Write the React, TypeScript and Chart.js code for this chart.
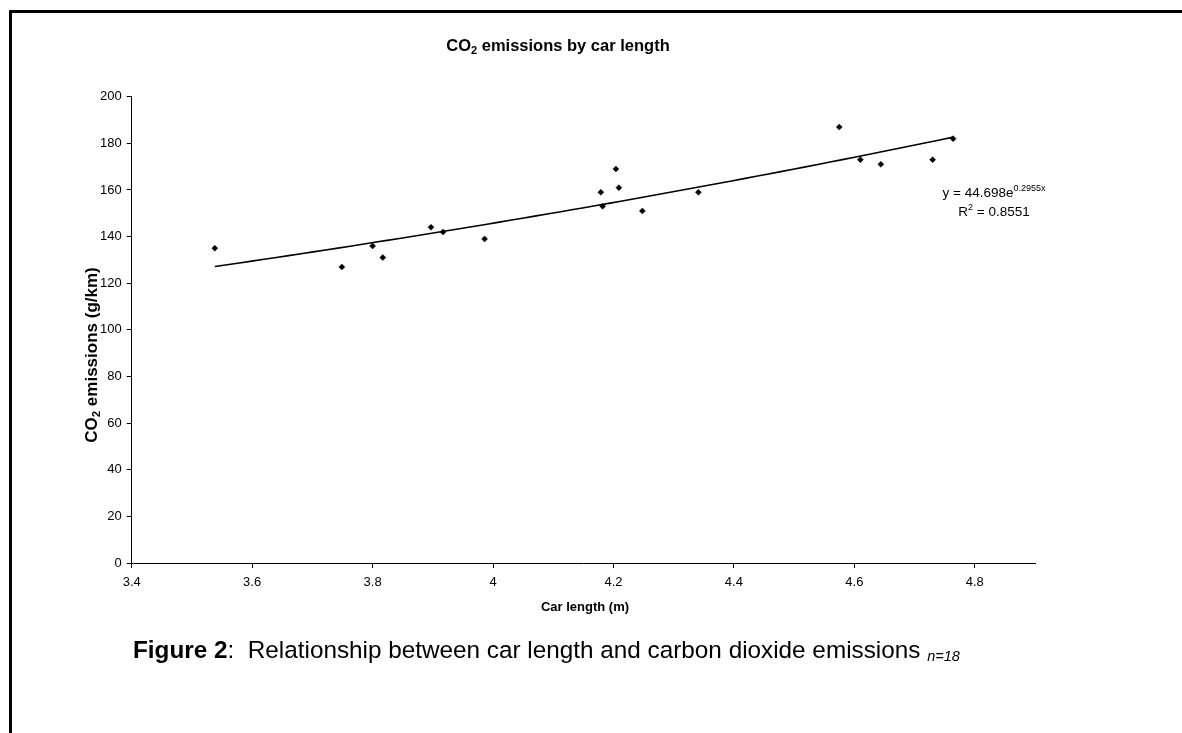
import React, { useEffect, useRef } from "react";
import { Chart, registerables } from "chart.js";

Chart.register(...registerables);

// ---- Data ----
const carLength = [3.538, 3.749, 3.8, 3.817, 3.897, 3.917, 3.986, 4.179, 4.182, 4.204, 4.209, 4.248, 4.341, 4.575, 4.61, 4.644, 4.73, 4.764];
const co2Emissions = [135, 127, 136, 131, 144, 142, 139, 159, 153, 169, 161, 151, 159, 187, 173, 171, 173, 182];
const xTickValues = [3.4, 3.6, 3.8, 4.0, 4.2, 4.4, 4.6, 4.8];
const yTickValues = [0, 20, 40, 60, 80, 100, 120, 140, 160, 180, 200];
// Trendline stated on the chart: y = 44.698 e^(0.2955x)
const trendA = 44.698;
const trendB = 0.2955;
const trendSamples = 60;

const FONT = "'Liberation Sans', Arial, Helvetica, sans-serif";

type Run = { text: string; size: number; bold?: boolean; italic?: boolean; dy?: number };

function runFont(r: Run) {
  return `${r.italic ? "italic " : ""}${r.bold ? "bold " : ""}${r.size}px ${FONT}`;
}

function drawRuns(ctx: CanvasRenderingContext2D, runs: Run[], x: number, y: number, align: "center" | "left") {
  let total = 0;
  const widths = runs.map((r) => {
    ctx.font = runFont(r);
    const w = ctx.measureText(r.text).width;
    total += w;
    return w;
  });
  let cx = align === "center" ? x - total / 2 : x;
  ctx.textAlign = "left";
  ctx.textBaseline = "alphabetic";
  runs.forEach((r, i) => {
    ctx.font = runFont(r);
    ctx.fillText(r.text, cx, y + (r.dy || 0));
    cx += widths[i];
  });
}

const textPlugin = {
  id: "customText",
  afterDraw(chart: any) {
    const ctx: CanvasRenderingContext2D = chart.ctx;
    ctx.save();
    ctx.fillStyle = "#000";
    // Chart title
    drawRuns(
      ctx,
      [
        { text: "CO", size: 16.5, bold: true },
        { text: "2", size: 11, bold: true, dy: 3 },
        { text: " emissions by car length", size: 16.5, bold: true },
      ],
      558,
      51,
      "center"
    );
    // X axis title
    drawRuns(ctx, [{ text: "Car length (m)", size: 13, bold: true }], 585, 611, "center");
    // Y axis title (rotated)
    ctx.save();
    ctx.translate(97, 355);
    ctx.rotate(-Math.PI / 2);
    drawRuns(
      ctx,
      [
        { text: "CO", size: 17, bold: true },
        { text: "2", size: 11.5, bold: true, dy: 3 },
        { text: " emissions (g/km)", size: 17, bold: true },
      ],
      0,
      0,
      "center"
    );
    ctx.restore();
    // Trendline equation
    drawRuns(
      ctx,
      [
        { text: "y = 44.698e", size: 13.5 },
        { text: "0.2955x", size: 9, dy: -6 },
      ],
      994,
      197,
      "center"
    );
    drawRuns(
      ctx,
      [
        { text: "R", size: 13.5 },
        { text: "2", size: 9, dy: -6 },
        { text: " = 0.8551", size: 13.5 },
      ],
      994,
      216,
      "center"
    );
    ctx.restore();
  },
};

export default function App() {
  const canvasRef = useRef<HTMLCanvasElement | null>(null);

  useEffect(() => {
    const canvas = canvasRef.current;
    if (!canvas) return;
    const x0 = carLength[0];
    const x1 = carLength[carLength.length - 1];
    const trendPoints = [] as { x: number; y: number }[];
    for (let i = 0; i <= trendSamples; i++) {
      const x = x0 + ((x1 - x0) * i) / trendSamples;
      trendPoints.push({ x, y: trendA * Math.exp(trendB * x) });
    }
    const scatterPoints = carLength.map((x, i) => ({ x, y: co2Emissions[i] }));

    const yAxisWidth = 45;
    const xAxisHeight = 40;
    const chart = new Chart(canvas, {
      type: "scatter",
      data: {
        datasets: [
          {
            data: scatterPoints,
            pointStyle: "rectRot",
            pointRadius: 3,
            backgroundColor: "#000",
            borderColor: "#000",
            borderWidth: 0.5,
            order: 1,
          },
          {
            data: trendPoints,
            showLine: true,
            pointRadius: 0,
            borderColor: "#000",
            borderWidth: 1.6,
            tension: 0,
            order: 2,
          } as any,
        ],
      },
      options: {
        animation: false,
        responsive: false,
        devicePixelRatio: 1,
        layout: {
          padding: {
            left: 131.7 - yAxisWidth,
            top: 96.7,
            right: 1182 - 1035,
            bottom: 733 - 563 - xAxisHeight,
          },
        },
        plugins: {
          legend: { display: false },
          tooltip: { enabled: false },
          title: { display: false },
        },
        scales: {
          x: {
            type: "linear",
            min: 3.4,
            max: 4.9,
            afterBuildTicks: (s: any) => {
              s.ticks = xTickValues.map((v) => ({ value: v }));
            },
            afterFit: (s: any) => {
              s.height = xAxisHeight;
            },
            ticks: {
              color: "#000",
              font: { size: 13, family: FONT },
              padding: 7,
              maxRotation: 0,
              autoSkip: false,
              callback: (v: any) => String(Math.round(Number(v) * 10) / 10),
            },
            grid: { display: true, drawOnChartArea: false, drawTicks: true, tickLength: 5, color: "#000", lineWidth: 1 },
            border: { display: true, color: "#000", width: 1 },
          },
          y: {
            type: "linear",
            min: 0,
            max: 200,
            afterBuildTicks: (s: any) => {
              s.ticks = yTickValues.map((v) => ({ value: v }));
            },
            afterFit: (s: any) => {
              s.width = yAxisWidth;
            },
            ticks: {
              color: "#000",
              font: { size: 13, family: FONT },
              padding: 5,
              autoSkip: false,
            },
            grid: { display: true, drawOnChartArea: false, drawTicks: true, tickLength: 5, color: "#000", lineWidth: 1 },
            border: { display: true, color: "#000", width: 1 },
          },
        },
      },
      plugins: [textPlugin],
    } as any);
    return () => chart.destroy();
  }, []);

  return (
    <div
      style={{
        position: "absolute",
        left: 0,
        top: 0,
        width: 1182,
        height: 733,
        background: "#fff",
        overflow: "hidden",
        fontFamily: FONT,
      }}
    >
      <div
        style={{
          position: "absolute",
          left: 9,
          top: 10,
          width: 1200,
          height: 760,
          borderTop: "3px solid #000",
          borderLeft: "3px solid #000",
          boxSizing: "border-box",
        }}
      />
      <canvas ref={canvasRef} width={1182} height={733} style={{ position: "absolute", left: 0, top: 0, width: 1182, height: 733 }} />
      <div
        style={{
          position: "absolute",
          left: 133,
          top: 636,
          fontSize: 24.3,
          lineHeight: "28px",
          color: "#000",
          whiteSpace: "nowrap",
        }}
      >
        <b>Figure 2</b>:&nbsp; Relationship between car length and carbon dioxide emissions{" "}
        <i style={{ fontSize: 14.5, position: "relative", top: 3 }}>n=18</i>
      </div>
    </div>
  );
}
